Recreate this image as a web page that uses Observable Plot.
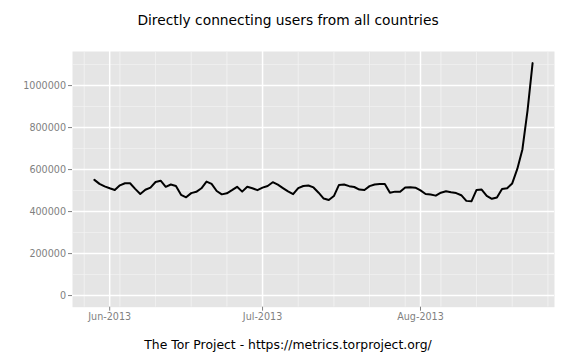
<!DOCTYPE html>
<html>
<head>
<meta charset="utf-8">
<script src="https://cdn.jsdelivr.net/npm/d3@7"></script>
<script src="https://cdn.jsdelivr.net/npm/@observablehq/plot@0.6"></script>
<style>
  html, body { margin: 0; padding: 0; background: white; }
  body { width: 576px; height: 360px; overflow: hidden; font-family: "DejaVu Sans", sans-serif; }
  #title { height: 36px; line-height: 40px; text-align: center; font-size: 13.8px; color: #000; }
  #caption { height: 30px; line-height: 30px; text-align: center; font-size: 12.4px; color: #000; }
  #chart svg { display: block; }
</style>
</head>
<body>
<div id="title">Directly connecting users from all countries</div>
<div id="chart"></div>
<div id="caption">The Tor Project - https://metrics.torproject.org/</div>
<script>
const dates = [
  "2013-05-29","2013-05-30","2013-05-31",
  "2013-06-01","2013-06-02","2013-06-03","2013-06-04","2013-06-05","2013-06-06","2013-06-07","2013-06-08","2013-06-09","2013-06-10",
  "2013-06-11","2013-06-12","2013-06-13","2013-06-14","2013-06-15","2013-06-16","2013-06-17","2013-06-18","2013-06-19","2013-06-20",
  "2013-06-21","2013-06-22","2013-06-23","2013-06-24","2013-06-25","2013-06-26","2013-06-27","2013-06-28","2013-06-29","2013-06-30",
  "2013-07-01","2013-07-02","2013-07-03","2013-07-04","2013-07-05","2013-07-06","2013-07-07","2013-07-08","2013-07-09","2013-07-10",
  "2013-07-11","2013-07-12","2013-07-13","2013-07-14","2013-07-15","2013-07-16","2013-07-17","2013-07-18","2013-07-19","2013-07-20",
  "2013-07-21","2013-07-22","2013-07-23","2013-07-24","2013-07-25","2013-07-26","2013-07-27","2013-07-28","2013-07-29","2013-07-30","2013-07-31",
  "2013-08-01","2013-08-02","2013-08-03","2013-08-04","2013-08-05","2013-08-06","2013-08-07","2013-08-08","2013-08-09","2013-08-10",
  "2013-08-11","2013-08-12","2013-08-13","2013-08-14","2013-08-15","2013-08-16","2013-08-17","2013-08-18","2013-08-19","2013-08-20",
  "2013-08-21","2013-08-22","2013-08-23"
];
const users = [
  551000, 532000, 520000,
  511000, 503000, 525000, 535000, 535000, 508000, 484000, 504000, 514000, 541000,
  547000, 518000, 529000, 522000, 480000, 468000, 488000, 494000, 511000, 543000,
  532000, 498000, 482000, 487000, 502000, 518000, 495000, 518000, 511000, 502000,
  514000, 522000, 540000, 528000, 512000, 496000, 483000, 512000, 522000, 524000,
  515000, 490000, 462000, 455000, 474000, 527000, 529000, 521000, 517000, 505000,
  503000, 521000, 529000, 531000, 531000, 490000, 495000, 494000, 515000, 516000, 514000,
  501000, 484000, 481000, 476000, 490000, 497000, 492000, 488000, 478000, 451000,
  449000, 503000, 505000, 475000, 461000, 467000, 508000, 511000, 534000, 603000,
  696000, 880000, 1107000
];
const yMajorTicks = [0, 200000, 400000, 600000, 800000, 1000000];
const yMinorTicks = [100000, 300000, 500000, 700000, 900000, 1100000];
const xMajorTicks = ["2013-06-01", "2013-07-01", "2013-08-01"];
const xMinorTicks = ["2013-05-27","2013-06-03","2013-06-10","2013-06-17","2013-06-24","2013-07-08","2013-07-15","2013-07-22","2013-07-29","2013-08-05","2013-08-12","2013-08-19","2013-08-26"];

const data = dates.map((d, i) => ({date: new Date(d), users: users[i]}));

// ggplot-style 5% expansion
const t0 = d3.min(data, d => +d.date), t1 = d3.max(data, d => +d.date);
const tPad = (t1 - t0) * 0.05;
const yLo = 0, yHi = d3.max(users);
const yPad = (yHi - yLo) * 0.05;

const chart = Plot.plot({
  width: 576,
  height: 294,
  marginTop: 15,
  marginBottom: 23.3,
  marginLeft: 72,
  marginRight: 22,
  style: {fontFamily: "DejaVu Sans", fontSize: "9.6px", background: "white", overflow: "visible"},
  x: {type: "utc", domain: [new Date(t0 - tPad), new Date(t1 + tPad)]},
  y: {domain: [yLo - yPad, yHi + yPad]},
  marks: [
    Plot.frame({fill: "#E5E5E5", stroke: null}),
    Plot.ruleY(yMinorTicks, {stroke: "#F2F2F2", strokeWidth: 0.8}),
    Plot.ruleX(xMinorTicks.map(d => new Date(d)), {stroke: "#F2F2F2", strokeWidth: 0.8}),
    Plot.ruleY(yMajorTicks, {stroke: "white", strokeWidth: 1.5}),
    Plot.ruleX(xMajorTicks.map(d => new Date(d)), {stroke: "white", strokeWidth: 1.5}),
    Plot.axisY(yMajorTicks, {tickFormat: d => String(d), tickSize: 4, tickPadding: 2.5, color: "#7F7F7F", label: null}),
    Plot.axisX(xMajorTicks.map(d => new Date(d)), {tickFormat: d3.utcFormat("%b-%Y"), tickSize: 4, tickPadding: 2, color: "#7F7F7F", label: null}),
    Plot.lineY(data, {x: "date", y: "users", stroke: "black", strokeWidth: 2})
  ]
});
document.getElementById("chart").appendChild(chart);
</script>
</body>
</html>
